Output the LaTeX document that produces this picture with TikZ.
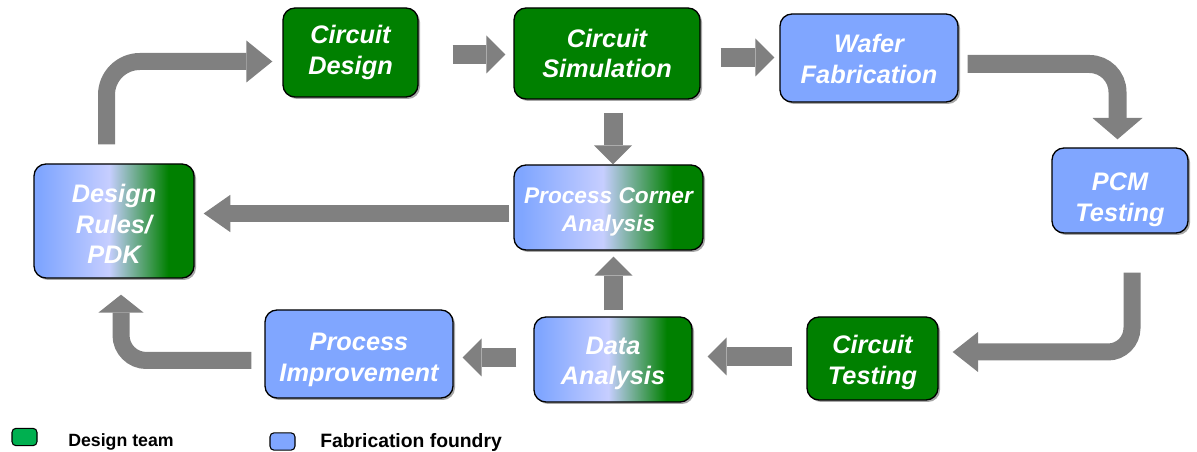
\documentclass[tikz,border=0pt]{standalone}
\usepackage{fontspec}
\setmainfont{Liberation Sans}
\usetikzlibrary{arrows.meta,calc,shadows}
\definecolor{dgreen}{HTML}{008000}
\definecolor{fblue}{HTML}{80A6FF}
\definecolor{flight}{HTML}{C6CEFF}
\definecolor{agray}{HTML}{808080}
\definecolor{lgreen}{HTML}{00B050}
\pgfdeclarehorizontalshading{mixshade}{100bp}{color(0bp)=(fblue); color(27bp)=(fblue); color(48.5bp)=(flight); color(67bp)=(dgreen); color(100bp)=(dgreen)}
\begin{document}
\begin{tikzpicture}[x=0.75pt,y=0.75pt,
  box/.style={draw=black, line width=1pt, rounded corners=9pt, inner sep=0pt,
    drop shadow={shadow xshift=1.5pt, shadow yshift=-1.5pt, opacity=0.35, fill=black}},
  txt/.style={align=center, text=white, inner sep=0pt,
    font=\bfseries\itshape\fontsize{19}{23}\selectfont},
  gbox/.style={box, fill=dgreen},
  bbox/.style={box, fill=fblue},
  mbox/.style={box, shade, shading=mixshade},
  flow/.style={draw=agray, line width=14.25pt},
  tipS/.style={-{Triangle[width=28.5pt,length=14.25pt,line width=0pt,fill=agray]}},
  legbox/.style={draw=black, line width=0.8pt, rounded corners=3pt, minimum width=18.75pt, minimum height=13pt, inner sep=0pt},
  legtext/.style={anchor=base west, inner sep=0pt, font=\bfseries}
]
\useasboundingbox (0,0) rectangle (1197,-452);

% nodes
\node[gbox, minimum width=101.25pt, minimum height=66.75pt,
  label={[txt]center:{Circuit\\Design}}] (cd) at (350.5,-52.5) {};
\node[gbox, minimum width=139.5pt, minimum height=68.25pt,
  label={[txt]center:{Circuit\\Simulation}}] (cs) at (607,-53.5) {};
\node[bbox, minimum width=133.5pt, minimum height=66pt,
  label={[txt,yshift=-0.75pt]center:{Wafer\\Fabrication}}] (wf) at (869,-58) {};
\node[bbox, minimum width=102pt, minimum height=63.75pt,
  label={[txt,yshift=-7pt]center:{PCM\\Testing}}] (pcm) at (1120,-190.5) {};
\node[gbox, minimum width=98.25pt, minimum height=62.25pt,
  label={[txt,yshift=-3pt]center:{Circuit\\Testing}}] (ct) at (872.5,-358.5) {};
\node[mbox, minimum width=118.5pt, minimum height=63.75pt,
  label={[txt,yshift=-3pt]center:{Data\\Analysis}}] (da) at (613,-359.5) {};
\node[bbox, minimum width=141pt, minimum height=66pt,
  label={[txt,yshift=-4.5pt]center:{Process\\Improvement}}] (pi) at (359,-354) {};
\node[mbox, minimum width=141.75pt, minimum height=63.75pt,
  label={[txt,yshift=-3pt,font=\bfseries\itshape\fontsize{17}{21}\selectfont]center:{Process Corner\\Analysis}}] (pca) at (608.5,-207.5) {};
\node[mbox, minimum width=120pt, minimum height=85.5pt,
  label={[txt,yshift=-2.25pt]center:{Design\\Rules/\\PDK}}] (dr) at (114,-221) {};

% straight arrows
\draw[flow, tipS] ($(cd.east)+(34,-2)$) -- ($(cs.west)+(-8,-1)$);
\draw[flow, tipS] ($(cs.east)+(20,-4)$) -- ($(wf.west)+(-5,0.5)$);
\draw[flow, tipS] ($(cs.south)+(6,-13)$) -- ($(pca.north)+(4.5,0)$);
\draw[flow, tipS] ($(da.north)+(0.5,6)$) -- ($(pca.south)+(5,-6)$);
\draw[flow, tipS] ($(ct.west)+(-14,2)$) -- ($(da.east)+(15,3)$);
\draw[flow, tipS] ($(da.west)+(-17,2)$) -- ($(pi.east)+(9,-3.5)$);
\draw[flow, line width=12.75pt, -{Triangle[width=28pt,length=20pt,line width=0pt,fill=agray]}] ($(pca.west)+(-4,-6)$) -- ($(dr.east)+(9,7.5)$);

% curved arrows
\draw[flow, line width=12.75pt, rounded corners=25pt, -{Triangle[width=31.5pt,length=19.5pt,line width=0pt,fill=agray]}] ($(dr.north)+(-7.5,19)$) |- ($(cd.west)+(-10,-9)$);
\draw[flow, line width=13.5pt, rounded corners=21pt, -{Triangle[width=37.5pt,length=16pt,line width=0pt,fill=agray]}] ($(wf.east)+(9,-6)$) -| ($(pcm.north)+(-2.5,8)$);
\draw[flow, line width=12.75pt, rounded corners=18pt, -{Triangle[width=30pt,length=19pt,line width=0pt,fill=agray]}] ($(pcm.south)+(12,-39)$) |- ($(ct.east)+(14,6.5)$);
\draw[flow, line width=12.75pt, rounded corners=19pt, -{Triangle[width=34pt,length=13.5pt,line width=0pt,fill=agray]}] ($(pi.west)+(-13,-6.5)$) -| ($(dr.south)+(7,-16)$);

% legend
\node[legbox, fill=lgreen] (lg) at (24.5,-437) {};
\node[legtext, font=\bfseries\fontsize{13.3}{15}\selectfont] (lgt) at (68,-446) {Design team};
\node[legbox, fill=fblue] (lb) at (282.5,-441.5) {};
\node[legtext, font=\bfseries\fontsize{14.5}{17}\selectfont] (lbt) at (320,-448) {Fabrication foundry};
\end{tikzpicture}
\end{document}
